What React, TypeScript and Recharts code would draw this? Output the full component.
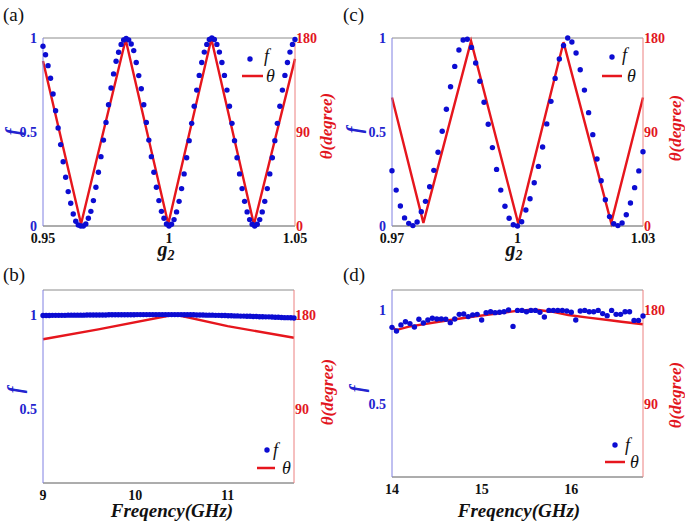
import React from 'react';
import { ComposedChart, XAxis, YAxis, Scatter, Line, ReferenceLine, Legend } from 'recharts';

const SERIF = "'Liberation Serif', Tinos, 'Times New Roman', Times, 'DejaVu Serif', 'Noto Serif', serif";
const BLUE = '#0c0cd2';
const RED = '#e6161d';
const TXT_BLUE = '#2323cf';
const TXT_RED = '#e2161e';

// ---------- (a) ----------
const aX0 = 0.95;
const aStep = 0.001;
const aF = [
  0.956, 0.911, 0.853, 0.786, 0.702, 0.613, 0.521, 0.433, 0.342, 0.259,
  0.183, 0.121, 0.064, 0.025, 0.005, 0.0, 0.0, 0.011, 0.041, 0.078,
  0.135, 0.206, 0.286, 0.369, 0.457, 0.551, 0.645, 0.734, 0.809, 0.876,
  0.924, 0.966, 0.989, 0.998, 0.99, 0.968, 0.933, 0.87, 0.8, 0.73,
  0.645, 0.551, 0.457, 0.369, 0.286, 0.206, 0.135, 0.078, 0.041, 0.011,
  0.0, 0.009, 0.034, 0.075, 0.131, 0.199, 0.277, 0.363, 0.454, 0.546,
  0.637, 0.723, 0.801, 0.87, 0.925, 0.966, 0.992, 1.0, 0.992, 0.966,
  0.925, 0.87, 0.801, 0.723, 0.637, 0.546, 0.454, 0.363, 0.277, 0.199,
  0.131, 0.075, 0.034, 0.009, 0.0, 0.009, 0.034, 0.075, 0.131, 0.199,
  0.277, 0.363, 0.454, 0.546, 0.637, 0.723, 0.801, 0.87, 0.925, 0.966,
  0.992,
];
const aThetaX = [0.95, 0.9651, 0.9828, 0.9997, 1.0168, 1.0337, 1.05];
const aThetaY = [158, 2, 178.5, 2, 179.3, 1.5, 160];
const aXTicks = [0.95, 1, 1.05];

// ---------- (c) ----------
const cX0 = 0.97;
const cStep = 0.001;
const cF = [
  0.294, 0.191, 0.106, 0.043, 0.014, 0.002, 0.021, 0.076, 0.131, 0.209,
  0.296, 0.392, 0.504, 0.621, 0.741, 0.849, 0.936, 0.989, 0.993, 0.95,
  0.867, 0.77, 0.658, 0.541, 0.417, 0.301, 0.191, 0.105, 0.041, 0.007,
  0.0, 0.023, 0.085, 0.145, 0.23, 0.317, 0.42, 0.543, 0.663, 0.785,
  0.888, 0.96, 1.0, 0.979, 0.92, 0.831, 0.723, 0.603, 0.486, 0.356,
  0.241, 0.14, 0.05, 0.012, 0.002, 0.016, 0.06, 0.122, 0.204, 0.293,
  0.395,
];
const cThetaX = [0.97, 0.9775, 0.9889, 1.0002, 1.011, 1.0224, 1.03];
const cThetaY = [123, 3, 177, 2, 176, 3, 123];
const cXTicks = [0.97, 1, 1.03];

// ---------- (b) ----------
const bX0 = 9;
const bStep = 0.034;
const bF = [
  0.995, 0.995, 0.995, 0.996, 0.996, 0.996, 0.996, 0.996, 0.997, 0.997,
  0.997, 0.997, 0.997, 0.997, 0.998, 0.998, 0.998, 0.998, 0.998, 0.998,
  0.998, 0.999, 0.999, 0.999, 0.999, 0.999, 0.999, 0.999, 0.999, 0.999,
  1.0, 1.0, 1.0, 1.0, 1.0, 1.0, 1.0, 1.0, 1.0, 1.0,
  1.0, 1.0, 1.0, 1.0, 1.0, 0.999, 0.999, 0.999, 0.999, 0.998,
  0.998, 0.998, 0.997, 0.997, 0.997, 0.996, 0.996, 0.995, 0.995, 0.994,
  0.994, 0.993, 0.993, 0.992, 0.992, 0.991, 0.991, 0.99, 0.99, 0.989,
  0.989, 0.988, 0.988, 0.987, 0.986, 0.986, 0.985, 0.984, 0.984, 0.983,
  0.982,
];
const bThetaX = [9, 9.6, 10.43, 11, 11.72];
const bThetaY = [156.5, 166, 180, 169, 158];
const bXTicks = [9, 10, 11];

// ---------- (d) ----------
const dX0 = 14;
const dStep = 0.05;
const dF = [
  0.908, 0.889, 0.921, 0.938, 0.928, 0.91, 0.951, 0.931, 0.947, 0.956,
  0.952, 0.952, 0.951, 0.933, 0.952, 0.977, 0.979, 0.965, 0.974, 0.977,
  0.947, 0.986, 0.991, 0.986, 0.988, 0.991, 1.0, 0.913, 0.998, 0.998,
  0.991, 0.998, 0.998, 0.988, 0.963, 0.998, 0.998, 0.998, 0.998, 0.995,
  0.988, 0.947, 0.995, 0.998, 0.991, 0.991, 0.998, 0.981, 0.97, 0.998,
  0.977, 0.977, 0.991, 0.991, 0.945, 0.945, 0.968,
];
const dThetaX = [14.0, 14.048, 14.189, 14.522, 14.893, 15.189, 15.374, 15.522, 15.633, 15.781, 15.967, 16.189, 16.411, 16.559, 16.8];
const dThetaY = [163.5, 160.9, 164.1, 168.8, 173.6, 176.8, 179, 180, 180, 178.4, 175.2, 172.7, 170.5, 168.8, 166.4];
const dXTicks = [14, 15, 16];

const fTicksFull = [0, 0.5, 1];
const tTicksFull = [0, 90, 180];
const fTicksPart = [0.5, 1];
const tTicksPart = [90, 180];

type Pt = { x: number; y: number };

interface PanelProps {
  left: number; top: number; w: number; h: number;
  mt: number; lw: number; rw: number; xh: number;
  x0: number; step: number; fY: number[];
  tX: number[]; tY: number[];
  xDomain: [number, number]; xTicks: number[];
  yDomain: [number, number]; yTicks: number[];
  rDomain: [number, number]; rTicks: number[];
  panel: string; panelX: number; panelY: number;
  fLab: [number, number]; tLab: [number, number];
  xLab: 'g' | 'freq'; xLabX: number; xLabY: number;
  leg: { dx: number; dy: number; fx: number; fy: number; lx1: number; lx2: number; ly: number; tx: number; ty: number };
}

const Dot = (props: any) => {
  const { cx, cy } = props;
  if (cx == null || cy == null) return null;
  return <circle cx={cx} cy={cy} r={2.7} fill={BLUE} />;
};

const serifStyle = { fontFamily: SERIF };

function Panel(p: PanelProps) {
  const fPts: Pt[] = p.fY.map((y, i) => ({ x: +(p.x0 + i * p.step).toFixed(4), y }));
  const tPts: Pt[] = p.tX.map((x, i) => ({ x, y: p.tY[i] }));
  const L = p.leg;
  const legendContent = () => (
    <svg width={p.w} height={p.h} style={{ position: 'absolute', left: 0, top: 0, pointerEvents: 'none' }}>
      <circle cx={L.dx} cy={L.dy} r={2.7} fill={BLUE} />
      <text x={L.fx} y={L.fy} style={serifStyle} fontStyle="italic" fontSize={18} fill="#111">f</text>
      <line x1={L.lx1} x2={L.lx2} y1={L.ly} y2={L.ly} stroke={RED} strokeWidth={2.5} />
      <text x={L.tx} y={L.ty} style={serifStyle} fontStyle="italic" fontSize={18} fill="#111">θ</text>
    </svg>
  );
  return (
    <div style={{ position: 'absolute', left: p.left, top: p.top, width: p.w, height: p.h }}>
      <ComposedChart width={p.w} height={p.h} margin={{ top: p.mt, right: 0, bottom: 0, left: 0 }}>
        <XAxis
          type="number"
          dataKey="x"
          domain={p.xDomain}
          ticks={p.xTicks}
          interval={0}
          height={p.xh}
          tickSize={0}
          tickMargin={7}
          axisLine={{ stroke: '#5a5a5a', strokeWidth: 1 }}
          tick={{ fill: '#111', fontSize: 14, fontWeight: 'bold', style: serifStyle }}
        />
        <YAxis
          yAxisId="l"
          dataKey="y"
          type="number"
          domain={p.yDomain}
          ticks={p.yTicks}
          interval={0}
          width={p.lw}
          tickSize={0}
          tickMargin={6}
          axisLine={{ stroke: '#8080e2', strokeWidth: 1 }}
          tick={{ fill: TXT_BLUE, fontSize: 14, fontWeight: 'bold', style: serifStyle }}
        />
        <YAxis
          yAxisId="r"
          orientation="right"
          dataKey="y"
          type="number"
          domain={p.rDomain}
          ticks={p.rTicks}
          interval={0}
          width={p.rw}
          tickSize={0}
          tickMargin={1}
          axisLine={{ stroke: '#ec8080', strokeWidth: 1 }}
          tick={{ fill: TXT_RED, fontSize: 14, fontWeight: 'bold', style: serifStyle }}
        />
        <ReferenceLine yAxisId="l" y={p.yDomain[1]} stroke="#8c8c8c" strokeWidth={1} />
        <Scatter yAxisId="l" data={fPts} dataKey="y" name="f" fill={BLUE} shape={Dot} isAnimationActive={false} />
        <Line yAxisId="r" data={tPts} dataKey="y" name="θ" type="linear" stroke={RED} strokeWidth={2.4} dot={false} activeDot={false} isAnimationActive={false} />
        <Legend
          layout="vertical"
          align="center"
          verticalAlign="middle"
          wrapperStyle={{ left: 0, top: 0, width: p.w, height: p.h, pointerEvents: 'none' }}
          content={legendContent}
        />
      </ComposedChart>
      <svg width={p.w} height={p.h} style={{ position: 'absolute', left: 0, top: 0, pointerEvents: 'none' }}>
        <text x={p.panelX} y={p.panelY} style={serifStyle} fontSize={19} fill="#111">{p.panel}</text>
        <text
          x={p.fLab[0]} y={p.fLab[1]}
          transform={`rotate(-90 ${p.fLab[0]} ${p.fLab[1]})`}
          textAnchor="middle" dominantBaseline="central"
          style={serifStyle} fontStyle="italic" fontWeight="bold" fontSize={20} fill={TXT_BLUE}
        >f</text>
        <text
          x={p.tLab[0]} y={p.tLab[1]}
          transform={`rotate(-90 ${p.tLab[0]} ${p.tLab[1]})`}
          textAnchor="middle" dominantBaseline="central"
          style={serifStyle} fontStyle="italic" fontWeight="bold" fontSize={17} fill={TXT_RED}
        >θ(degree)</text>
        {p.xLab === 'g' ? (
          <text x={p.xLabX} y={p.xLabY} textAnchor="middle" style={serifStyle} fontStyle="italic" fontWeight="bold" fontSize={20} fill="#111">
            g<tspan fontSize={14} dy={4}>2</tspan>
          </text>
        ) : (
          <text x={p.xLabX} y={p.xLabY} textAnchor="middle" style={serifStyle} fontStyle="italic" fontWeight="bold" fontSize={19} fill="#111">
            Freqency(GHz)
          </text>
        )}
      </svg>
    </div>
  );
}

export default function App() {
  return (
    <div style={{ position: 'absolute', left: 0, top: 0, width: 685, height: 524, background: '#fff', overflow: 'hidden', fontFamily: SERIF }}>
      <Panel
        left={0} top={0} w={342} h={262} mt={38} lw={43} rw={47} xh={36}
        x0={aX0} step={aStep} fY={aF} tX={aThetaX} tY={aThetaY}
        xDomain={[0.95, 1.05]} xTicks={aXTicks}
        yDomain={[0, 1]} yTicks={fTicksFull} rDomain={[0, 180]} rTicks={tTicksFull}
        panel="(a)" panelX={3} panelY={21}
        fLab={[13, 132]} tLab={[326, 126]}
        xLab="g" xLabX={166} xLabY={256}
        leg={{ dx: 250, dy: 59, fx: 264, fy: 62, lx1: 242, lx2: 263, ly: 76, tx: 266, ty: 82 }}
      />
      <Panel
        left={342} top={0} w={343} h={262} mt={38} lw={50} rw={42} xh={36}
        x0={cX0} step={cStep} fY={cF} tX={cThetaX} tY={cThetaY}
        xDomain={[0.97, 1.03]} xTicks={cXTicks}
        yDomain={[0, 1]} yTicks={fTicksFull} rDomain={[0, 180]} rTicks={tTicksFull}
        panel="(c)" panelX={1} panelY={21}
        fLab={[12, 130]} tLab={[333, 128]}
        xLab="g" xLabX={172} xLabY={256}
        leg={{ dx: 270, dy: 57, fx: 280, fy: 61, lx1: 260, lx2: 280, ly: 76, tx: 285, ty: 82 }}
      />
      <Panel
        left={0} top={262} w={342} h={262} mt={28} lw={43} rw={48} xh={41}
        x0={bX0} step={bStep} fY={bF} tX={bThetaX} tY={bThetaY}
        xDomain={[9, 11.72]} xTicks={bXTicks}
        yDomain={[0.11, 1.13]} yTicks={fTicksPart} rDomain={[19.8, 203.4]} rTicks={tTicksPart}
        panel="(b)" panelX={3} panelY={19}
        fLab={[15, 128]} tLab={[327, 130]}
        xLab="freq" xLabX={172} xLabY={255}
        leg={{ dx: 267, dy: 188, fx: 273, fy: 194, lx1: 257, lx2: 275, ly: 206, tx: 282, ty: 212 }}
      />
      <Panel
        left={342} top={262} w={343} h={262} mt={28} lw={50} rw={42} xh={47}
        x0={dX0} step={dStep} fY={dF} tX={dThetaX} tY={dThetaY}
        xDomain={[14, 16.8]} xTicks={dXTicks}
        yDomain={[0.115, 1.106]} yTicks={fTicksPart} rDomain={[20.7, 199.1]} rTicks={tTicksPart}
        panel="(d)" panelX={1} panelY={19}
        fLab={[15, 127]} tLab={[333, 133]}
        xLab="freq" xLabX={177} xLabY={255}
        leg={{ dx: 273, dy: 183, fx: 283, fy: 189, lx1: 263, lx2: 283, ly: 200, tx: 288, ty: 206 }}
      />
    </div>
  );
}
